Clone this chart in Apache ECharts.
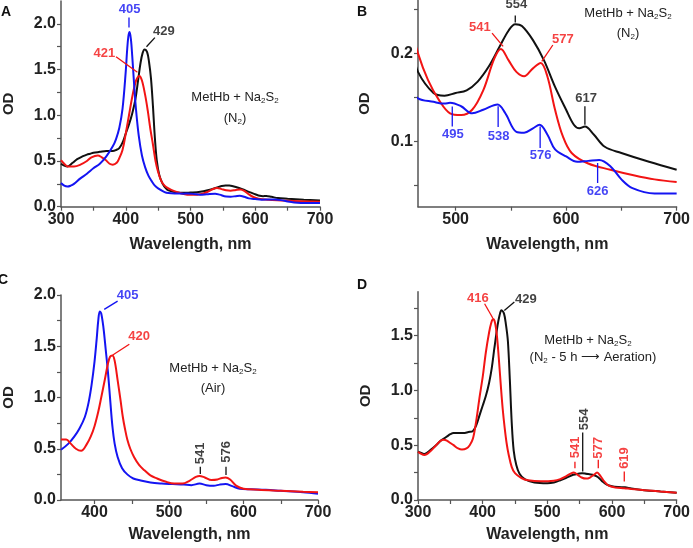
<!DOCTYPE html>
<html>
<head>
<meta charset="utf-8">
<script src="https://cdn.jsdelivr.net/npm/echarts@6/dist/echarts.min.js"></script>
<style>html,body{margin:0;padding:0;background:#fff}#c{width:693px;height:548px}</style>
</head>
<body>
<div id="c"></div>
<script>
// ---------------- data ----------------
// Panel A / B (same spectra; B is a zoom of A)
const abBlackWl = [300,305,310,318,325,333,340,345,350,360,370,380,385,390,395,400,405,410,415,419,423,426,429,433,436,439,442,445,448,452,457,462,466,480,490,500,510,520,530,540,548,554,560,570,580,590,600,607,612,617,625,635,650,675,700];
const abBlackOd = [0.47,0.45,0.44,0.48,0.52,0.55,0.57,0.58,0.59,0.60,0.61,0.61,0.62,0.64,0.70,0.80,0.90,1.02,1.18,1.38,1.58,1.68,1.72,1.69,1.58,1.40,1.10,0.75,0.50,0.34,0.25,0.20,0.179,0.155,0.152,0.155,0.158,0.168,0.185,0.208,0.226,0.233,0.231,0.215,0.192,0.162,0.136,0.119,0.115,0.117,0.108,0.094,0.087,0.077,0.068];

const abRedWl = [300,305,310,320,330,340,347,357,363,369,375,380,386,390,395,400,405,410,415,418,421,425,430,434,438,442,446,450,455,460,466,475,485,495,505,515,525,535,541,548,555,562,570,577,583,590,597,605,620,640,660,680,700];
const abRedOd = [0.51,0.47,0.44,0.44,0.46,0.50,0.54,0.56,0.54,0.51,0.47,0.46,0.48,0.53,0.62,0.80,1.00,1.20,1.36,1.41,1.43,1.38,1.22,1.05,0.85,0.68,0.50,0.38,0.28,0.23,0.20,0.170,0.147,0.132,0.130,0.136,0.158,0.194,0.205,0.192,0.179,0.174,0.183,0.189,0.174,0.136,0.106,0.087,0.075,0.068,0.062,0.057,0.054];

const abBlueWl = [300,305,310,315,320,330,340,350,360,370,380,385,390,395,400,402,404,406,408,410,413,416,420,425,430,435,440,445,450,460,466,480,490,495,505,515,525,538,545,555,562,570,576,583,590,600,610,620,630,640,650,660,680,700];
const abBlueOd = [0.26,0.23,0.22,0.23,0.25,0.31,0.36,0.42,0.47,0.55,0.66,0.74,0.86,1.07,1.48,1.70,1.86,1.91,1.83,1.65,1.33,1.05,0.78,0.56,0.43,0.34,0.28,0.23,0.20,0.16,0.149,0.145,0.143,0.144,0.140,0.132,0.136,0.142,0.132,0.111,0.110,0.115,0.119,0.108,0.091,0.083,0.077,0.078,0.079,0.072,0.057,0.047,0.041,0.041];

// Panel C
const cBlueWl = [355,365,373,380,387,392,396,400,403,405,407,409,412,415,418,421,424,427,431,437,444,452,462,475,490,505,520,530,541,550,560,568,576,585,595,610,630,650,680,700];
const cBlueOd = [0.49,0.55,0.62,0.70,0.81,0.95,1.12,1.35,1.58,1.75,1.84,1.82,1.68,1.47,1.25,0.98,0.72,0.55,0.42,0.31,0.25,0.21,0.19,0.17,0.16,0.155,0.15,0.145,0.16,0.145,0.14,0.15,0.155,0.135,0.11,0.105,0.10,0.09,0.075,0.06];

const cRedWl = [355,362,368,375,382,390,395,400,405,409,414,418,421,424,427,431,435,438,441,444,448,453,460,467,475,484,495,507,518,528,536,541,548,557,565,571,576,582,590,600,620,650,680,700];
const cRedOd = [0.59,0.59,0.55,0.50,0.48,0.55,0.62,0.72,0.86,1.00,1.18,1.33,1.40,1.41,1.36,1.17,0.97,0.81,0.69,0.59,0.50,0.42,0.34,0.29,0.24,0.21,0.18,0.16,0.16,0.19,0.225,0.235,0.22,0.195,0.20,0.215,0.22,0.20,0.14,0.11,0.10,0.09,0.08,0.075];

// Panel D
const dBlackWl = [300,305,310,320,328,335,340,345,350,355,362,370,378,385,390,395,400,405,410,414,418,423,426,429,433,436,439,442,445,448,452,457,465,480,500,510,520,530,540,548,554,560,570,578,585,592,600,610,620,630,650,675,700];
const dBlackOd = [0.44,0.43,0.42,0.46,0.50,0.54,0.56,0.58,0.60,0.61,0.61,0.61,0.62,0.63,0.68,0.77,0.86,0.95,1.07,1.20,1.38,1.59,1.68,1.73,1.70,1.60,1.45,1.10,0.70,0.45,0.32,0.24,0.19,0.16,0.153,0.16,0.18,0.205,0.23,0.24,0.245,0.24,0.23,0.21,0.17,0.14,0.125,0.118,0.116,0.105,0.09,0.078,0.067];

const dRedWl = [300,305,310,320,328,335,340,345,350,355,362,368,375,380,385,390,395,400,405,410,413,416,419,422,425,428,431,434,437,440,445,450,460,470,490,510,520,530,536,541,547,553,560,566,572,577,582,588,595,605,619,630,650,675,700];
const dRedOd = [0.44,0.42,0.41,0.45,0.50,0.54,0.55,0.54,0.52,0.50,0.47,0.46,0.47,0.50,0.56,0.72,0.93,1.12,1.35,1.53,1.61,1.65,1.62,1.50,1.29,1.05,0.83,0.66,0.52,0.42,0.30,0.245,0.20,0.18,0.17,0.175,0.19,0.22,0.24,0.25,0.23,0.205,0.195,0.205,0.23,0.25,0.22,0.17,0.13,0.115,0.107,0.10,0.09,0.078,0.067];

// Tick labels
const xTicksFull = [300,400,500,600,700];
const xTicksB = [500,600,700];
const xTicksC = [400,500,600,700];
const yTicksA = [0,0.5,1.0,1.5,2.0];
const yTicksB = [0.1,0.2];
const yTicksC = [0,0.5,1.0,1.5,2.0];
const yTicksD = [0,0.5,1.0,1.5];

// Peak annotations: [text, series-colour key, text wl, text OD, rotate, line wl1, OD1, wl2, OD2]
const annA = [['405','blue',406,2.16,0,405,1.96,405,2.07],['429','black',459,1.92,0,432,1.75,445,1.85],['421','red',367,1.68,0,385,1.64,418,1.47]];
const annB = [['554','black',555,0.255,0,554,0.243,554,0.235],['541','red',522,0.230,0,533,0.223,543,0.208],['577','red',597,0.216,0,588,0.2095,578,0.191],['617','black',618,0.149,0,617,0.140,617,0.119],['495','blue',497.6,0.1076,0,497,0.1396,497,0.117],['538','blue',539,0.1057,0,538.5,0.140,538.5,0.1165],['576','blue',577,0.0838,0,576.5,0.117,576.5,0.0925],['626','blue',628.5,0.0434,0,628.5,0.0755,628.5,0.0529]];
const annC = [['405','blue',444.5,2.0,0,413,1.86,431,1.94],['420','red',460,1.6,0,424.5,1.415,446.7,1.52],['541','black',542,0.455,90,542,0.325,542,0.254],['576','black',576.5,0.47,90,576.5,0.325,576.5,0.244]];
const annD = [['416','red',392.7,1.843,0,403,1.79,415.6,1.66],['429','black',466.7,1.83,0,449,1.806,433.5,1.729],['541','red',542.7,0.48,90,542.7,0.35,542.7,0.29],['554','black',557.3,0.735,90,554.7,0.615,554.7,0.26],['577','red',578.8,0.475,90,578.8,0.367,578.8,0.29],['619','red',619,0.383,90,619,0.26,619,0.168]];

// ---------------- chart ----------------
const COL = {blue:'#1414f2', red:'#f21414', black:'#111111'};
const FONT = '"Liberation Sans", Arial, sans-serif';
const AX = '#555';

function range(a, b, s){ const r=[]; for(let v=a; v<=b+1e-9; v+=s) r.push(+v.toFixed(4)); return r; }
function pairs(w, o){ return w.map((x,i)=>[x,o[i]]); }

const grids = [
  {left:59, top:1, width:261, height:205.7},
  {left:418, top:0.5, width:260, height:206.2},
  {left:59, top:295, width:259, height:205},
  {left:418, top:291.7, width:261, height:208.3}
];

function xAxis(idx, min, max, labels, ticks, gap){
  return {type:'value', gridIndex:idx, min:min, max:max,
    name:'Wavelength, nm', nameLocation:'middle', nameGap:gap,
    nameTextStyle:{fontFamily:FONT, fontWeight:'bold', fontSize:16, color:'#222'},
    axisLine:{show:true, onZero:false, lineStyle:{color:AX, width:1.5}},
    axisTick:{show:true, customValues:ticks, length:4, lineStyle:{color:AX, width:1.2}},
    axisLabel:{customValues:labels, margin:5, fontFamily:FONT, fontWeight:'bold', fontSize:16, color:'#222', formatter:v=>String(Math.round(v))},
    splitLine:{show:false}};
}
function yAxis(idx, min, max, labels, ticks, gap){
  return {type:'value', gridIndex:idx, min:min, max:max,
    name:'OD', nameLocation:'middle', nameGap:gap,
    nameTextStyle:{fontFamily:FONT, fontWeight:'bold', fontSize:15, color:'#222'},
    axisLine:{show:true, onZero:false, lineStyle:{color:AX, width:1.5}},
    axisTick:{show:true, customValues:ticks, length:4, lineStyle:{color:AX, width:1.2}},
    axisLabel:{customValues:labels, margin:5, fontFamily:FONT, fontWeight:'bold', fontSize:16, color:'#222', formatter:v=>v.toFixed(1)},
    splitLine:{show:false}};
}

const xAxes = [
  xAxis(0,300,700,xTicksFull,range(300,700,50),30),
  xAxis(1,466,700,xTicksB,range(500,700,50),30),
  xAxis(2,355,700,xTicksC,range(400,700,50),27),
  xAxis(3,300,700,xTicksFull,range(300,700,50),27)
];
const yAxes = [
  yAxis(0,0,2.25,yTicksA,range(0,2.0,0.25),45),
  yAxis(1,0.026,0.26,yTicksB,range(0.05,0.25,0.05),46),
  yAxis(2,0,2.0,yTicksC,range(0,2.0,0.25),45),
  yAxis(3,0,1.9,yTicksD,range(0,1.75,0.25),45)
];

const series = [];
function curve(idx, w, o, col){
  series.push({type:'line', xAxisIndex:idx, yAxisIndex:idx, data:pairs(w,o), showSymbol:false, symbol:'none',
    smooth:0.35, lineStyle:{color:COL[col], width:2}, itemStyle:{color:COL[col]}, animation:false, silent:true, z:3});
}
function annots(idx, list){
  list.forEach(a=>{
    const [t,col,tx,ty,rot,x1,y1,x2,y2] = a;
    series.push({type:'line', xAxisIndex:idx, yAxisIndex:idx, data:[[x1,y1],[x2,y2]], showSymbol:false, symbol:'none',
      lineStyle:{color:COL[col], width:1.3}, animation:false, silent:true, z:4});
    series.push({type:'scatter', xAxisIndex:idx, yAxisIndex:idx, data:[[tx,ty]], symbolSize:1,
      itemStyle:{color:'rgba(0,0,0,0)'}, animation:false, silent:true, z:5,
      label:{show:true, position:'inside', rotate:rot, formatter:t, color:COL[col], fontFamily:FONT, fontSize:13, fontWeight:'bold'}});
  });
}
// A
curve(0, abBlackWl, abBlackOd, 'black'); curve(0, abRedWl, abRedOd, 'red'); curve(0, abBlueWl, abBlueOd, 'blue');
// B
curve(1, abBlackWl, abBlackOd, 'black'); curve(1, abRedWl, abRedOd, 'red'); curve(1, abBlueWl, abBlueOd, 'blue');
// C
curve(2, cBlueWl, cBlueOd, 'blue'); curve(2, cRedWl, cRedOd, 'red');
// D
curve(3, dBlackWl, dBlackOd, 'black'); curve(3, dRedWl, dRedOd, 'red');
annots(0, annA); annots(1, annB); annots(2, annC); annots(3, annD);

const rich = {
  n:{fontFamily:FONT, fontSize:13, fill:'#222', color:'#222'},
  s:{fontFamily:FONT, fontSize:8, fill:'#222', color:'#222', padding:[8,0,0,0]}
};
function txt(x, y, t){
  return {type:'text', x:x, y:y, silent:true, z:10,
    style:{text:t, align:'center', verticalAlign:'middle', rich:rich, fill:'#222', font:'13px ' + FONT}};
}
function letter(x, y, t){
  return {type:'text', x:x, y:y, silent:true, z:10,
    style:{text:t, align:'center', verticalAlign:'middle', fill:'#111', font:'bold 14px ' + FONT}};
}
const graphics = [
  letter(6,12,'A'), letter(362,12,'B'), letter(3,280,'C'), letter(362,285,'D'),
  txt(235,97,'{n|MetHb + Na}{s|2}{n|S}{s|2}'), txt(235,118,'{n|(N}{s|2}{n|)}'),
  txt(628,13,'{n|MetHb + Na}{s|2}{n|S}{s|2}'), txt(628,33,'{n|(N}{s|2}{n|)}'),
  txt(213,368,'{n|MetHb + Na}{s|2}{n|S}{s|2}'), txt(213,388,'{n|(Air)}'),
  txt(588,340,'{n|MetHb + Na}{s|2}{n|S}{s|2}'), txt(593,357,'{n|(N}{s|2}{n| - 5 h ⟶ Aeration)}')
];

const chart = echarts.init(document.getElementById('c'), null, {renderer:'canvas'});
chart.setOption({
  animation:false,
  backgroundColor:'#fff',
  grid:grids,
  xAxis:xAxes,
  yAxis:yAxes,
  series:series,
  graphic:graphics
});
</script>
</body>
</html>
